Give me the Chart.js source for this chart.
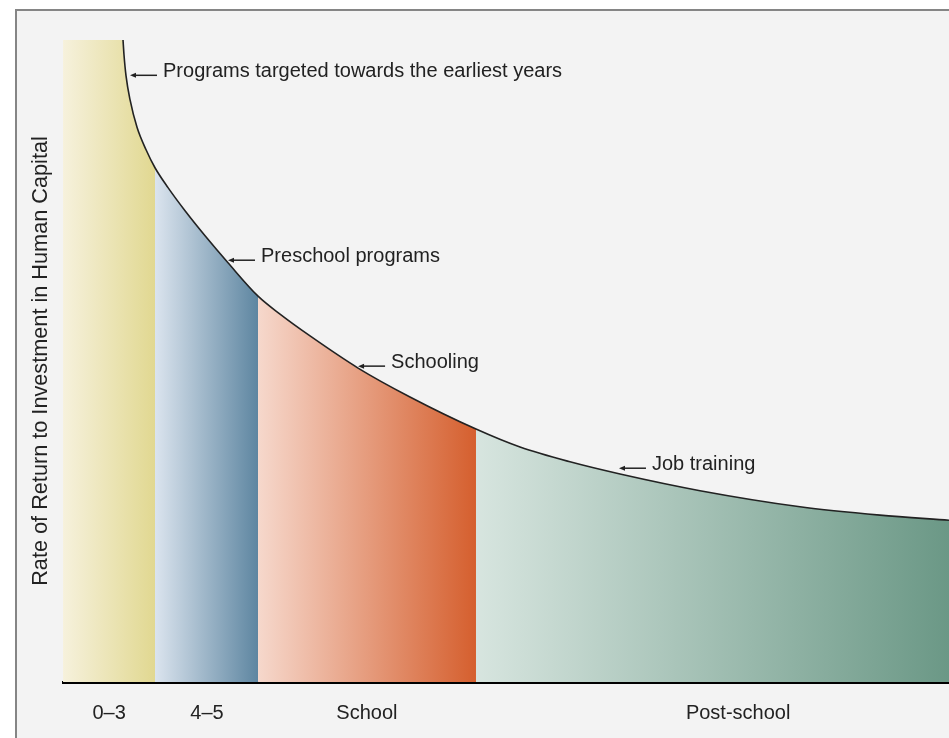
<!DOCTYPE html>
<html>
<head>
<meta charset="utf-8">
<script src="https://cdn.jsdelivr.net/npm/chart.js@4.4.1/dist/chart.umd.min.js"></script>
<style>
  html, body { margin: 0; padding: 0; background: #fff; }
  #wrap { position: relative; width: 949px; height: 738px; overflow: hidden; }
  #frame { position: absolute; left: 15px; top: 9px; width: 1000px; height: 800px;
           border: 2px solid #858585; background: #f3f3f3; }
  #box { position: absolute; left: 0; top: 0; width: 949px; height: 738px; }
</style>
</head>
<body>
<div id="wrap">
  <div id="frame"></div>
  <div id="box"><canvas id="chart"></canvas></div>
</div>
<script>
// ---- data ----
// x runs 0..100 along the age axis, y runs 0..100 up the plot
const CURVE_X = [6.77, 6.88, 7.11, 7.56, 8.35, 9.37, 10.38, 11.85, 13.77, 16.03, 18.62, 22.01, 24.49, 27.88, 33.30, 39.16, 46.61, 51.58, 57.22, 62.87, 71.90, 83.18, 92.21, 100];
const CURVE_Y = [100, 97.7, 94.4, 90.7, 86.4, 82.9, 80.1, 77.0, 73.4, 69.5, 65.3, 60.1, 57.3, 53.9, 48.9, 44.4, 39.4, 36.6, 34.3, 32.4, 29.8, 27.3, 26.0, 25.2];

const BAND_EDGES = [0, 10.38, 22.01, 46.61, 100];
const BAND_LABELS = ["0–3", "4–5", "School", "Post-school"];
const LABEL_AT = [5.2, 16.25, 34.3, 76.2];
const BAND_COLORS = [
  ["#f6f1dc", "#e1d891"],
  ["#dbe4ee", "#5e86a1"],
  ["#f6d8cc", "#d55f2e"],
  ["#d7e5df", "#6b9886"]
];

const NOTES = [
  { text: "Programs targeted towards the earliest years", x: 7.56, y: 94.5 },
  { text: "Preschool programs", x: 18.62, y: 65.7 },
  { text: "Schooling", x: 33.3, y: 49.2 },
  { text: "Job training", x: 62.75, y: 33.3 }
];

const FONT = "'Liberation Sans', Arial, sans-serif";
const INK = "#222";

// points of the curve that fall inside one band, capped at the top
function bandPoints(lo, hi) {
  const pts = [];
  if (lo < CURVE_X[0]) pts.push({ x: lo, y: CURVE_Y[0] });
  CURVE_X.forEach((x, i) => {
    if (x >= lo && x <= hi) pts.push({ x, y: CURVE_Y[i] });
  });
  return pts;
}

function bandFill(i) {
  return (ctx) => {
    const chart = ctx.chart;
    if (!chart.chartArea) return BAND_COLORS[i][1];
    const xs = chart.scales.x;
    const g = chart.ctx.createLinearGradient(
      xs.getPixelForValue(BAND_EDGES[i]), 0, xs.getPixelForValue(BAND_EDGES[i + 1]), 0);
    g.addColorStop(0, BAND_COLORS[i][0]);
    g.addColorStop(1, BAND_COLORS[i][1]);
    return g;
  };
}

const datasets = [{
  data: CURVE_X.map((x, i) => ({ x, y: CURVE_Y[i] })),
  borderColor: INK,
  borderWidth: 1.6,
  fill: false,
  pointRadius: 0,
  cubicInterpolationMode: "monotone"
}];

BAND_LABELS.forEach((lab, i) => {
  datasets.push({
    data: bandPoints(BAND_EDGES[i], BAND_EDGES[i + 1]),
    borderWidth: 0,
    borderColor: "rgba(0,0,0,0)",
    backgroundColor: bandFill(i),
    fill: "origin",
    pointRadius: 0,
    cubicInterpolationMode: "monotone"
  });
});

// arrows + text labels along the curve
const notesPlugin = {
  id: "notes",
  afterDatasetsDraw(chart) {
    const { ctx, scales: { x, y } } = chart;
    ctx.save();
    ctx.strokeStyle = INK;
    ctx.fillStyle = INK;
    ctx.lineWidth = 1.5;
    ctx.font = "20px " + FONT;
    ctx.textBaseline = "alphabetic";
    NOTES.forEach(n => {
      const px = x.getPixelForValue(n.x);
      const py = y.getPixelForValue(n.y);
      ctx.beginPath();
      ctx.moveTo(px + 3, py);
      ctx.lineTo(px + 27, py);
      ctx.stroke();
      ctx.beginPath();
      ctx.moveTo(px, py);
      ctx.lineTo(px + 6, py - 2.5);
      ctx.lineTo(px + 6, py + 2.5);
      ctx.closePath();
      ctx.fill();
      ctx.fillText(n.text, px + 33, py + 2);
    });
    ctx.restore();
  }
};

new Chart(document.getElementById("chart"), {
  type: "line",
  data: { datasets },
  options: {
    responsive: true,
    maintainAspectRatio: false,
    animation: false,
    layout: { padding: { top: 40, right: 0, bottom: 0, left: 0 } },
    plugins: { legend: { display: false }, tooltip: { enabled: false } },
    scales: {
      x: {
        type: "linear",
        min: 0,
        max: 100,
        grid: { display: false, drawTicks: false },
        border: { display: true, color: "#000", width: 3 },
        afterBuildTicks: axis => { axis.ticks = LABEL_AT.map(v => ({ value: v })); },
        afterFit: axis => { axis.height = 56; },
        ticks: {
          padding: 19,
          color: INK,
          font: { family: FONT, size: 20 },
          maxRotation: 0,
          autoSkip: false,
          callback: (v, i) => BAND_LABELS[i]
        }
      },
      y: {
        min: 0,
        max: 100,
        grid: { display: false, drawTicks: false },
        border: { display: false },
        ticks: { display: false },
        title: {
          display: true,
          text: "Rate of Return to Investment in Human Capital",
          color: INK,
          font: { family: FONT, size: 21.7 },
          padding: { top: 28, bottom: 9 }
        }
      }
    }
  },
  plugins: [notesPlugin]
});
</script>
</body>
</html>
